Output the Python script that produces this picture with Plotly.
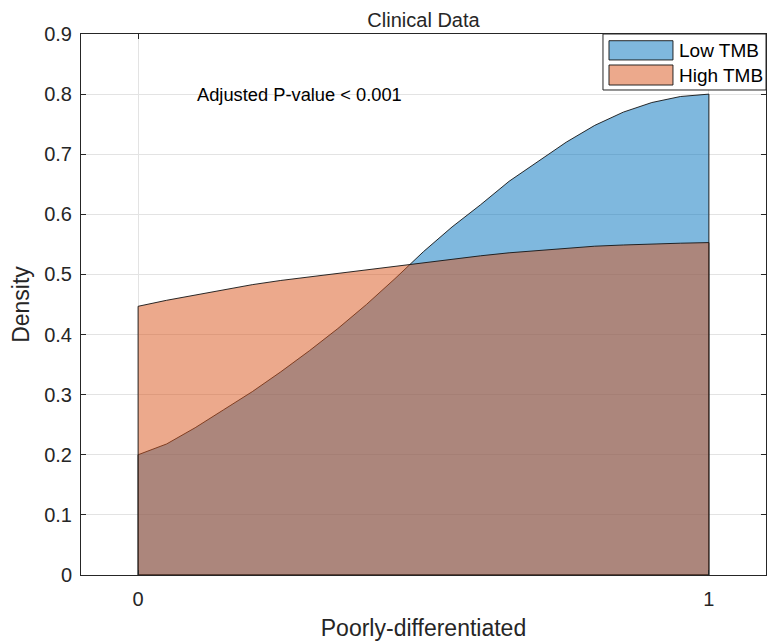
import plotly.graph_objects as go

# Data
x_vals = [0.00, 0.05, 0.10, 0.15, 0.20, 0.25, 0.30, 0.35, 0.40, 0.45, 0.50,
          0.55, 0.60, 0.65, 0.70, 0.75, 0.80, 0.85, 0.90, 0.95, 1.00]
low_tmb = [0.200, 0.218, 0.245, 0.275, 0.305, 0.338, 0.373, 0.410, 0.450, 0.493, 0.538,
           0.579, 0.616, 0.655, 0.688, 0.720, 0.748, 0.770, 0.786, 0.796, 0.800]
high_tmb = [0.447, 0.457, 0.466, 0.475, 0.483, 0.490, 0.496, 0.502, 0.508, 0.514, 0.520,
            0.526, 0.531, 0.536, 0.540, 0.544, 0.547, 0.549, 0.551, 0.552, 0.553]
series_names = ["Low TMB", "High TMB"]
x_tick_vals = [0, 1]
x_tick_text = ["0", "1"]
y_tick_vals = [0, 0.1, 0.2, 0.3, 0.4, 0.5, 0.6, 0.7, 0.8, 0.9]
y_tick_text = ["0", "0.1", "0.2", "0.3", "0.4", "0.5", "0.6", "0.7", "0.8", "0.9"]
title_text = "Clinical Data"
x_label = "Poorly-differentiated"
y_label = "Density"
note_text = "Adjusted P-value < 0.001"
note_pos = (0.1, 0.8)

FONT = "Liberation Sans, Arial, Helvetica, sans-serif"
fills = ["rgba(0,114,189,0.5)", "rgba(217,83,25,0.5)"]
EDGE = "rgba(20,20,20,0.9)"


def closed(xs, ys):
    # close the area down to the baseline at the first and last x
    return [xs[0]] + list(xs) + [xs[-1], xs[0]], [0] + list(ys) + [0, 0]


fig = go.Figure()
for name, ys, fc in zip(series_names, [low_tmb, high_tmb], fills):
    px, py = closed(x_vals, ys)
    fig.add_trace(go.Scatter(
        x=px, y=py, mode="lines", fill="toself", fillcolor=fc,
        line=dict(color=EDGE, width=1),
        name=name, hoverinfo="skip", showlegend=False))

axis_common = dict(
    showline=True, linecolor="#262626", linewidth=1, mirror="ticks",
    ticks="inside", ticklen=5, tickcolor="#262626",
    showgrid=True, gridcolor="#E3E3E3", gridwidth=1, zeroline=False,
    tickfont=dict(family=FONT, size=20, color="#262626"),
    automargin=False,
)

fig.update_layout(
    width=771, height=641,
    margin=dict(l=81, r=5, t=34, b=66),
    paper_bgcolor="white", plot_bgcolor="white",
    font=dict(family=FONT, color="#262626"),
    title=dict(text=title_text, x=0.5, xanchor="center", xref="paper",
               y=1 - 20 / 641, yref="container", yanchor="middle", automargin=False,
               font=dict(family=FONT, size=20, color="#262626")),
    xaxis=dict(range=[-0.1, 1.1], tickvals=x_tick_vals, ticktext=x_tick_text,
               ticklabelstandoff=6,
               title=dict(text=x_label, font=dict(family=FONT, size=23, color="#262626"),
                          standoff=11),
               **axis_common),
    yaxis=dict(range=[0, 0.9], tickvals=y_tick_vals, ticktext=y_tick_text,
               ticklabelstandoff=4,
               title=dict(text=y_label, font=dict(family=FONT, size=23, color="#262626"),
                          standoff=8),
               **axis_common),
    showlegend=False,
)

fig.add_annotation(x=note_pos[0], y=note_pos[1], xref="x", yref="y",
                   text=note_text, showarrow=False, xanchor="left", yanchor="middle",
                   font=dict(family=FONT, size=18.3, color="#000000"))

# Manual MATLAB-style legend (box, swatches, labels) in paper coordinates
leg_box = dict(x0=0.762, x1=1.0, y0=0.8965, y1=1.0)
sw_x = (0.7708, 0.8642)
sw_rows = [(0.952, 0.9876), (0.9057, 0.9427)]
txt_x = 0.870
fig.add_shape(type="rect", xref="paper", yref="paper", **leg_box,
              fillcolor="white", line=dict(color="#262626", width=1), layer="above")
for name, fc, (y0, y1) in zip(series_names, fills, sw_rows):
    fig.add_shape(type="rect", xref="paper", yref="paper",
                  x0=sw_x[0], x1=sw_x[1], y0=y0, y1=y1,
                  fillcolor=fc, line=dict(color=EDGE, width=1), layer="above")
    fig.add_annotation(x=txt_x, y=(y0 + y1) / 2, xref="paper", yref="paper",
                       text=name, showarrow=False, xanchor="left", yanchor="middle",
                       font=dict(family=FONT, size=19, color="#000000"))

fig.write_html("out.html",
               config={"displayModeBar": False},
               post_script="document.body.style.margin='0';"
                           "document.body.style.overflow='hidden';")
